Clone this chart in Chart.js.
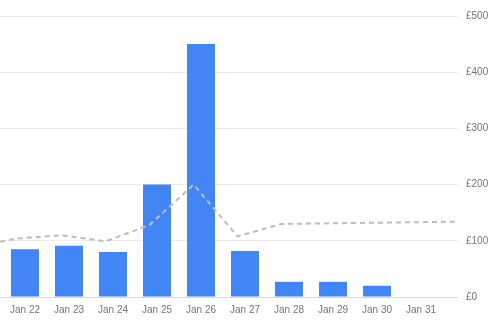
<!DOCTYPE html>
<html>
<head>
<meta charset="utf-8">
<script src="https://cdn.jsdelivr.net/npm/chart.js@4/dist/chart.umd.min.js"></script>
<style>
    html, body { margin: 0; padding: 0; background: #fff; }
    .chart__wrap { width: 499px; height: 329px; }
</style>
</head>
<body>
<div class="chart__wrap"><canvas id="sales"></canvas></div>
<script>
// daily takings (bars) and rolling average (dashed line)
const days = ['Jan 22', 'Jan 23', 'Jan 24', 'Jan 25', 'Jan 26', 'Jan 27', 'Jan 28', 'Jan 29', 'Jan 30', 'Jan 31'];
const takings = [85, 91, 80, 200, 450, 82, 27, 27, 20, null];
// average starts one day earlier (Jan 21) and runs to Feb 1
const average = [90, 104, 110, 99, 128, 200, 108, 130, 131, 132, 133, 134];
const yTicks = [0, 100, 200, 300, 400, 500];

const lineShift = 0.17; // the average line sits slightly left of the bar centres

let ctx = document.getElementById('sales').getContext('2d');

let barPoints = takings.map((v, i) => ({x: i, y: v}));
let linePoints = average.map((v, i) => ({x: i - 1 - lineShift, y: v}));

let font = {family: '"Liberation Sans", Arial, Helvetica, sans-serif', size: 10};

new Chart(ctx, {
    type: 'bar',
    data: {
        datasets: [{
            type: 'line',
            data: linePoints,
            borderColor: '#bdbdbd',
            borderWidth: 2,
            borderDash: [5, 4],
            pointRadius: 0,
            tension: 0,
            fill: false,
            order: 0
        }, {
            data: barPoints,
            backgroundColor: '#4285f4',
            borderWidth: 0,
            categoryPercentage: 1,
            barPercentage: 0.636,
            order: 1
        }]
    },
    options: {
        responsive: true,
        maintainAspectRatio: false,
        animation: false,
        layout: {padding: {top: 16, left: 0, right: 0, bottom: 0}},
        plugins: {legend: {display: false}, tooltip: {enabled: false}},
        scales: {
            x: {
                type: 'linear',
                offset: false,
                min: -0.568,
                max: 9.84,
                afterBuildTicks: (scale) => {
                    scale.ticks = days.map((d, i) => ({value: i}));
                },
                afterFit: (scale) => {
                    scale.height = 32;
                    scale.paddingLeft = 0;
                    scale.paddingRight = 0;
                },
                grid: {display: false, drawTicks: false},
                border: {display: false},
                ticks: {
                    color: '#757575',
                    font: font,
                    padding: 7,
                    maxRotation: 0,
                    autoSkip: false,
                    callback: (v) => days[Math.round(v)] || ''
                }
            },
            y: {
                position: 'right',
                min: 0,
                max: 500,
                afterBuildTicks: (scale) => {
                    scale.ticks = yTicks.map(v => ({value: v}));
                },
                afterFit: (scale) => { scale.width = 41; },
                grid: {
                    color: (c) => c.tick && c.tick.value === 0 ? '#dadada' : '#ebebeb',
                    lineWidth: 1,
                    drawTicks: false
                },
                border: {display: false},
                ticks: {
                    color: '#757575',
                    font: font,
                    padding: 8,
                    callback: (v) => '£' + v
                }
            }
        }
    }
});
</script>
</body>
</html>
